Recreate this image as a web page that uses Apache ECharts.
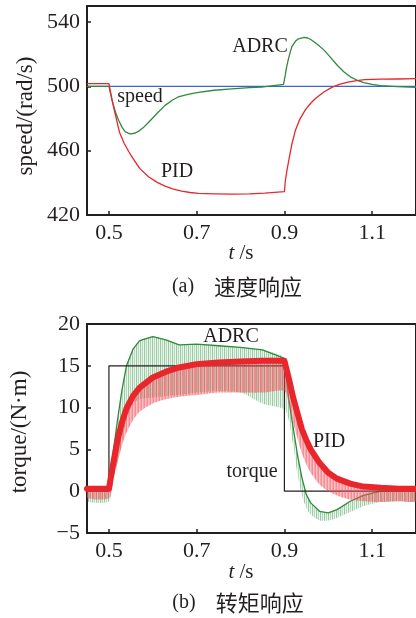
<!DOCTYPE html>
<html>
<head>
<meta charset="utf-8">
<script src="https://cdn.jsdelivr.net/npm/echarts@6/dist/echarts.min.js"></script>
<style>
html,body{margin:0;padding:0;background:#fff;}
#c{width:416px;height:618px;}
</style>
</head>
<body>
<div id="c"></div>
<script>
// ---------- data ----------
const xTicks = [0.5, 0.7, 0.9, 1.1];
const speedTicks = [420, 460, 500, 540];
const torqueTicks = [-5, 0, 5, 10, 15, 20];

// (a) speed response
const speedRefT = [0.45, 1.2];
const speedRefV = [500, 500];

const pidSpeedT = [0.45, 0.5, 0.505, 0.51, 0.515, 0.524, 0.535, 0.545, 0.554, 0.57, 0.591, 0.61, 0.628, 0.645, 0.666, 0.685, 0.704, 0.74, 0.78, 0.82, 0.855, 0.9, 0.902, 0.906, 0.91, 0.917, 0.925, 0.935, 0.948, 0.96, 0.97, 0.99, 1.007, 1.025, 1.045, 1.065, 1.083, 1.12, 1.158, 1.2];
const pidSpeedV = [501.7, 501.7, 494.5, 488, 482, 471.5, 464.5, 459.5, 455.5, 449, 443.6, 440.3, 438, 436.3, 434.9, 434, 433.4, 433.1, 433.0, 433.2, 433.6, 434.5, 441, 448, 454, 464, 472.6, 479.5, 485.5, 489.5, 492.3, 496.5, 499.2, 501.2, 502.7, 503.6, 504.2, 504.5, 504.6, 504.8];

const adrcSpeedT = [0.45, 0.5, 0.507, 0.515, 0.522, 0.53, 0.537, 0.545, 0.552, 0.56, 0.567, 0.58, 0.59, 0.61, 0.628, 0.645, 0.658, 0.68, 0.704, 0.74, 0.78, 0.82, 0.848, 0.875, 0.898, 0.902, 0.905, 0.91, 0.917, 0.925, 0.932, 0.945, 0.953, 0.961, 0.975, 0.991, 1.005, 1.021, 1.036, 1.051, 1.066, 1.081, 1.1, 1.119, 1.157, 1.2];
const adrcSpeedV = [500, 500, 491.3, 484, 478.9, 474.5, 471.9, 470.7, 470.5, 471, 472, 474.8, 477.5, 483.3, 488.2, 491.5, 493.4, 495.0, 496.3, 497.6, 498.5, 499.2, 499.6, 500.5, 501.3, 507, 512, 518, 524.7, 528, 529.6, 530.5, 530.1, 529, 526.2, 522.4, 518, 513, 509, 505.8, 503.8, 502.4, 501.2, 500.5, 499.8, 499.4];

// (b) torque response
const torqueRefT = [0.45, 0.5, 0.5, 0.9, 0.9, 1.2];
const torqueRefV = [0, 0, 15, 15, 0, 0];

const torqueT  = [0.45, 0.5, 0.51, 0.52, 0.53, 0.54, 0.555, 0.57, 0.6, 0.63, 0.66, 0.7, 0.75, 0.8, 0.85, 0.9, 0.91, 0.92, 0.93, 0.94, 0.95, 0.96, 0.98, 1.0, 1.02, 1.05, 1.08, 1.12, 1.16, 1.2];
const adrcUpper = [0.1, 0.1, 4.8, 8.7, 12.2, 15.0, 17.0, 18.0, 18.5, 18.1, 17.5, 17.6, 17.4, 17.2, 16.9, 15.9, 11.0, 7.6, 4.3, 1.6, -0.4, -1.4, -2.4, -2.6, -2.2, -1.2, -0.5, 0.0, 0.1, 0.1];
const adrcLower = [-1.2, -1.2, 1.5, 3.5, 6.0, 8.5, 10.5, 11.0, 11.2, 11.4, 11.5, 11.8, 12.0, 11.8, 10.5, 9.8, 8.5, 5.5, 2.0, -0.5, -2.0, -2.8, -3.5, -3.5, -3.2, -2.5, -1.8, -1.3, -1.2, -1.2];
const pidMid   = [0.3, 0.3, 3.4, 6.2, 8.3, 9.9, 11.4, 12.4, 13.6, 14.3, 14.8, 15.2, 15.4, 15.5, 15.6, 15.6, 13.5, 11.2, 9.3, 7.4, 6.1, 5.0, 3.4, 2.2, 1.5, 0.9, 0.55, 0.4, 0.3, 0.3];
const pidLower = [-0.8, -0.8, 1.5, 3.5, 5.5, 7.0, 8.5, 9.5, 10.5, 11.0, 11.3, 11.5, 11.8, 11.8, 11.8, 12.0, 10.5, 8.2, 6.3, 4.5, 3.2, 2.2, 0.8, 0.0, -0.5, -1.0, -1.2, -1.3, -1.2, -1.2];

// ---------- helpers ----------
const zip = (a, b) => a.map((v, i) => [v, b[i]]);
// hatch pattern (style only): vertical 1px columns of varying opacity
function hatch(rgb, alphas) {
  const c = document.createElement('canvas');
  c.width = alphas.length; c.height = 4;
  const ctx = c.getContext('2d');
  alphas.forEach((a, i) => {
    ctx.fillStyle = 'rgba(' + rgb + ',' + a + ')';
    ctx.fillRect(i, 0, 1, 4);
  });
  return c;
}
const SERIF = '"Liberation Serif", "Times New Roman", serif';
const CJK = '"Noto Sans CJK SC", sans-serif';
const TXT = '#231f20';

const RED = '#e8262b';
const GREEN = '#2f8a3c';
const BLUE = '#3a66d0';

const greenPattern = { image: hatch('70,160,85', [0.55, 0.15, 0.4, 0.1]), repeat: 'repeat' };
const redPattern = { image: hatch('240,80,90', [0.65, 0.35, 0.5]), repeat: 'repeat' };

function bandRender(upperArr, lowerArr, fill) {
  return function (params, api) {
    if (params.dataIndex !== 0) return null;
    const pts = [];
    for (let i = 0; i < torqueT.length; i++) pts.push(api.coord([torqueT[i], upperArr[i]]));
    for (let i = torqueT.length - 1; i >= 0; i--) pts.push(api.coord([torqueT[i], lowerArr[i]]));
    return { type: 'polygon', shape: { points: pts, smooth: 0.25 }, style: { fill: fill } };
  };
}

function xAxisCfg(gi) {
  return {
    type: 'value', gridIndex: gi, min: 0.45, max: 1.2,
    axisLine: { show: false, onZero: false },
    splitLine: { show: false },
    axisTick: { inside: true, length: 4, lineStyle: { color: TXT, width: 1.5 }, customValues: xTicks },
    axisLabel: { customValues: xTicks, fontFamily: SERIF, fontSize: 22, color: TXT, margin: 7,
      formatter: v => String(v) }
  };
}
function yAxisCfg(gi, min, max, ticks) {
  return {
    type: 'value', gridIndex: gi, min: min, max: max,
    axisLine: { show: false, onZero: false },
    splitLine: { show: false },
    axisTick: { inside: true, length: 4, lineStyle: { color: TXT, width: 1.5 }, customValues: ticks },
    axisLabel: { customValues: ticks, fontFamily: SERIF, fontSize: 22, color: TXT, margin: 7,
      formatter: v => String(v).replace('-', '\u2212') }
  };
}
function txt(text, x, y, opts) {
  opts = opts || {};
  return {
    type: 'text', x: x, y: y, rotation: opts.rot || 0, z: 100,
    style: Object.assign({
      text: text, x: 0, y: 0,
      fontFamily: opts.family || SERIF, fontSize: opts.size || 20,
      fill: TXT, align: 'center', verticalAlign: 'middle'
    }, opts.rich ? { rich: opts.rich } : {})
  };
}
const tRich = {
  i: { fontFamily: SERIF, fontSize: 21, fontStyle: 'italic', fill: TXT },
  n: { fontFamily: SERIF, fontSize: 21, fill: TXT }
};
const capRich = {
  a: { fontFamily: SERIF, fontSize: 20, fill: TXT },
  c: { fontFamily: CJK, fontSize: 22, fill: TXT }
};

const chart = echarts.init(document.getElementById('c'), null, { renderer: 'canvas' });
chart.setOption({
  animation: false,
  backgroundColor: '#fff',
  grid: [
    { left: 87, top: 6, width: 331, height: 209, show: true, borderColor: TXT, borderWidth: 2, backgroundColor: 'transparent' },
    { left: 87, top: 324, width: 331, height: 209, show: true, borderColor: TXT, borderWidth: 2, backgroundColor: 'transparent' }
  ],
  xAxis: [xAxisCfg(0), xAxisCfg(1)],
  yAxis: [yAxisCfg(0, 420, 550, speedTicks), yAxisCfg(1, -5, 20, torqueTicks)],
  series: [
    // ---- (a) ----
    { type: 'line', xAxisIndex: 0, yAxisIndex: 0, data: zip(speedRefT, speedRefV), symbol: 'none',
      lineStyle: { color: BLUE, width: 1.3 } },
    { type: 'line', xAxisIndex: 0, yAxisIndex: 0, data: zip(adrcSpeedT, adrcSpeedV), symbol: 'none',
      lineStyle: { color: GREEN, width: 1.3, join: 'round' } },
    { type: 'line', xAxisIndex: 0, yAxisIndex: 0, data: zip(pidSpeedT, pidSpeedV), symbol: 'none',
      lineStyle: { color: RED, width: 1.3, join: 'round' } },
    // ---- (b) ----
    { type: 'custom', xAxisIndex: 1, yAxisIndex: 1, clip: true, z: 2,
      data: zip(torqueT, adrcUpper), encode: { x: 0, y: 1 },
      renderItem: bandRender(adrcUpper, adrcLower, greenPattern) },
    { type: 'line', xAxisIndex: 1, yAxisIndex: 1, data: zip(torqueT, adrcUpper), symbol: 'none', z: 3,
      lineStyle: { color: GREEN, width: 1.3, join: 'round' } },
    { type: 'line', xAxisIndex: 1, yAxisIndex: 1, data: zip(torqueRefT, torqueRefV), symbol: 'none', z: 4,
      lineStyle: { color: TXT, width: 1.2 } },
    { type: 'custom', xAxisIndex: 1, yAxisIndex: 1, clip: true, z: 5,
      data: zip(torqueT, pidMid), encode: { x: 0, y: 1 },
      renderItem: bandRender(pidMid, pidLower, redPattern) },
    { type: 'line', xAxisIndex: 1, yAxisIndex: 1, data: zip(torqueT, pidMid), symbol: 'none', z: 6,
      lineStyle: { color: RED, width: 6, join: 'round', cap: 'round' } }
  ],
  graphic: [
    txt('speed/(rad/s)', 26, 116, { rot: Math.PI / 2, size: 23 }),
    txt('{i|t} {n|/s}', 241, 253, { rich: tRich }),
    txt('{a|(a)}    {c|速度响应}', 237, 287, { rich: capRich }),
    txt('ADRC', 260, 47),
    txt('speed', 140, 97),
    txt('PID', 177, 172),
    txt('torque/(N·m)', 20, 432, { rot: Math.PI / 2, size: 23 }),
    txt('{i|t} {n|/s}', 241, 572, { rich: tRich }),
    txt('{a|(b)}    {c|转矩响应}', 238, 603, { rich: capRich }),
    txt('ADRC', 231, 337),
    txt('PID', 329, 442),
    txt('torque', 252, 472)
  ]
});
</script>
</body>
</html>
